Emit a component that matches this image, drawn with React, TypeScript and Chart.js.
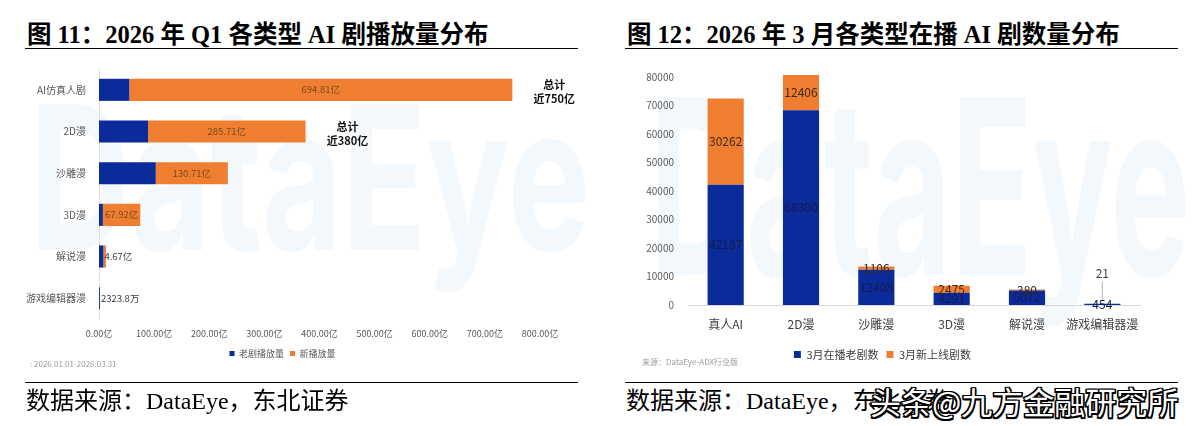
import React, { useEffect, useRef } from "react";
import { Chart, registerables } from "chart.js";

Chart.register(...registerables);

// ---------- data: figure 11 (horizontal stacked bars) ----------
const playCategories = ["AI仿真人剧", "2D漫", "沙雕漫", "3D漫", "解说漫", "游戏编辑器漫"];
const oldPlay = [55, 89, 103, 7, 8, 1.6];
const newPlay = [694.81, 285.71, 130.71, 67.92, 4.67, 0.23238];
const newPlayLabels = ["694.81亿", "285.71亿", "130.71亿", "67.92亿", "4.67亿", "2323.8万"];
const playTicks = [0, 100, 200, 300, 400, 500, 600, 700, 800];
const totalNoteIndex = [0, 1];
const totalNoteLines = [
  ["总计", "近750亿"],
  ["总计", "近380亿"],
];
const playSeriesNames = ["老剧播放量", "新播放量"];

// ---------- data: figure 12 (vertical stacked bars) ----------
const countCategories = ["真人AI", "2D漫", "沙雕漫", "3D漫", "解说漫", "游戏编辑器漫"];
const oldCount = [42187, 68300, 12408, 4291, 5072, 454];
const newCount = [30262, 12406, 1106, 2475, 380, 21];
const countTicks = [0, 10000, 20000, 30000, 40000, 50000, 60000, 70000, 80000];
const countSeriesNames = ["3月在播老剧数", "3月新上线剧数"];

const BLUE = "#0b2b9b";
const ORANGE = "#ef7e31";
const SANS = "'Noto Sans CJK SC', 'Noto Sans', sans-serif";
const SERIF = "'Liberation Serif', 'Noto Sans CJK SC', serif";

const watermark = (x: number, y: number, size: number, width: number) => ({
  id: "wm",
  beforeDraw(chart: any) {
    const ctx = chart.ctx;
    ctx.save();
    ctx.fillStyle = "#f3f8fc";
    ctx.font = `bold ${size}px Inter, sans-serif`;
    ctx.textBaseline = "alphabetic";
    ctx.fillText("DataEye", x, y, width);
    ctx.restore();
  },
});

function PlayChart() {
  const ref = useRef<HTMLCanvasElement>(null);
  useEffect(() => {
    const labelPlugin = {
      id: "playLabels",
      afterDatasetsDraw(chart: any) {
        const ctx = chart.ctx;
        const m1 = chart.getDatasetMeta(1);
        ctx.save();
        ctx.font = `9.5px ${SANS}`;
        ctx.textBaseline = "middle";
        ctx.textAlign = "center";
        m1.data.forEach((bar: any, i: number) => {
          const start = bar.base;
          const end = bar.x;
          const txt = newPlayLabels[i];
          const w = ctx.measureText(txt).width;
          const cx = Math.max((start + end) / 2, start + w / 2 + 1);
          ctx.fillStyle = end - start > w ? "#7a4a1c" : "#404040";
          ctx.fillText(txt, cx, bar.y);
        });
        ctx.font = `bold 11px ${SANS}`;
        ctx.fillStyle = "#111";
        totalNoteIndex.forEach((idx, k) => {
          const bar = m1.data[idx];
          const cx = bar.x + 42;
          ctx.fillText(totalNoteLines[k][0], cx, bar.y - 5);
          ctx.fillText(totalNoteLines[k][1], cx, bar.y + 9);
        });
        ctx.restore();
      },
    };
    const chart = new Chart(ref.current as HTMLCanvasElement, {
      type: "bar",
      data: {
        labels: playCategories,
        datasets: [
          { label: playSeriesNames[0], data: oldPlay, backgroundColor: BLUE, barPercentage: 0.53, categoryPercentage: 1 },
          { label: playSeriesNames[1], data: newPlay, backgroundColor: ORANGE, barPercentage: 0.53, categoryPercentage: 1 },
        ],
      },
      options: {
        indexAxis: "y",
        responsive: false,
        animation: false,
        layout: { padding: { top: 4.5, right: 45, left: 0, bottom: 2 } },
        scales: {
          x: {
            stacked: true,
            min: 0,
            max: 800,
            afterBuildTicks: (s: any) => {
              s.ticks = playTicks.map((v) => ({ value: v }));
            },
            grid: { display: false },
            border: { display: false },
            ticks: {
              callback: (v: any) => `${Number(v).toFixed(2)}亿`,
              font: { size: 9, family: SANS },
              color: "#595959",
              padding: 1,
              maxRotation: 0,
            },
            afterFit: (s: any) => {
              s.height = 24;
            },
          },
          y: {
            stacked: true,
            grid: { display: false },
            border: { display: true, color: "#e0e0e0" },
            ticks: { font: { size: 10, family: SANS }, color: "#595959", padding: 5 },
            afterFit: (s: any) => {
              s.width = 74;
            },
          },
        },
        plugins: {
          legend: {
            position: "bottom",
            labels: { boxWidth: 5, boxHeight: 5, font: { size: 9, family: SANS }, color: "#595959", padding: 6 },
          },
          tooltip: { enabled: false },
        },
      },
      plugins: [watermark(5, 192, 200, 560), labelPlugin],
    } as any);
    return () => chart.destroy();
  }, []);
  return <canvas ref={ref} width={560} height={312} style={{ position: "absolute", left: 25, top: 58 }} />;
}

function CountChart() {
  const ref = useRef<HTMLCanvasElement>(null);
  useEffect(() => {
    const labelPlugin = {
      id: "countLabels",
      afterDatasetsDraw(chart: any) {
        const ctx = chart.ctx;
        const m0 = chart.getDatasetMeta(0);
        const m1 = chart.getDatasetMeta(1);
        ctx.save();
        ctx.font = `12px ${SANS}`;
        ctx.textBaseline = "middle";
        ctx.textAlign = "center";
        m0.data.forEach((bar: any, i: number) => {
          ctx.fillStyle = "#141b4a";
          ctx.fillText(String(oldCount[i]), bar.x, (bar.y + bar.base) / 2);
        });
        m1.data.forEach((bar: any, i: number) => {
          const h = bar.base - bar.y;
          if (h < 1) {
            ctx.strokeStyle = "#b0b0b0";
            ctx.lineWidth = 1;
            ctx.beginPath();
            ctx.moveTo(bar.x, bar.y - 22);
            ctx.lineTo(bar.x, bar.y - 4);
            ctx.stroke();
            ctx.fillStyle = "#404040";
            ctx.fillText(String(newCount[i]), bar.x, bar.y - 30);
          } else {
            ctx.fillStyle = "#3d2a18";
            ctx.fillText(String(newCount[i]), bar.x, (bar.y + bar.base) / 2);
          }
        });
        ctx.restore();
      },
    };
    const chart = new Chart(ref.current as HTMLCanvasElement, {
      type: "bar",
      data: {
        labels: countCategories,
        datasets: [
          { label: countSeriesNames[0], data: oldCount, backgroundColor: BLUE, barPercentage: 0.48, categoryPercentage: 1, clip: false },
          { label: countSeriesNames[1], data: newCount, backgroundColor: ORANGE, barPercentage: 0.48, categoryPercentage: 1, clip: false },
        ],
      },
      options: {
        responsive: false,
        animation: false,
        layout: { padding: { top: 19, right: 45, left: 0, bottom: 0 } },
        scales: {
          x: {
            stacked: true,
            grid: { display: false },
            border: { display: true, color: "#d9d9d9" },
            ticks: {
              font: { size: 12, family: SANS },
              color: "#404040",
              padding: 4,
              maxRotation: 0,
              minRotation: 0,
              autoSkip: false,
            },
            afterFit: (s: any) => {
              s.height = 36;
            },
          },
          y: {
            stacked: true,
            min: 0,
            max: 80000,
            afterBuildTicks: (s: any) => {
              s.ticks = countTicks.map((v) => ({ value: v }));
            },
            grid: { display: false },
            border: { display: false },
            ticks: {
              callback: (v: any) => String(v),
              font: { size: 10, family: SANS },
              color: "#595959",
              padding: 6,
            },
            afterFit: (s: any) => {
              s.width = 63;
            },
          },
        },
        plugins: {
          legend: {
            position: "bottom",
            labels: { boxWidth: 7, boxHeight: 7, font: { size: 11, family: SANS }, color: "#404040", padding: 8 },
          },
          tooltip: { enabled: false },
        },
      },
      plugins: [watermark(25, 217, 245, 540), labelPlugin],
    } as any);
    return () => chart.destroy();
  }, []);
  return <canvas ref={ref} width={560} height={312} style={{ position: "absolute", left: 625, top: 58 }} />;
}

const titleStyle: React.CSSProperties = {
  position: "absolute",
  top: 21,
  fontFamily: SERIF,
  fontWeight: "bold",
  fontSize: 24.5,
  lineHeight: "28px",
  color: "#000",
  whiteSpace: "nowrap",
};
const sourceStyle: React.CSSProperties = {
  position: "absolute",
  top: 386,
  fontFamily: SERIF,
  fontSize: 24,
  lineHeight: "30px",
  color: "#000",
  whiteSpace: "nowrap",
};
const rule = (left: number, top: number, width: number): React.CSSProperties => ({
  position: "absolute",
  left,
  top,
  width,
  height: 0,
  borderTop: "1.5px solid #000",
});
const noteStyle: React.CSSProperties = {
  position: "absolute",
  fontFamily: SANS,
  fontSize: 8,
  color: "#9a9a9a",
  whiteSpace: "nowrap",
};

export default function App() {
  return (
    <div style={{ position: "absolute", left: 0, top: 0, width: 1200, height: 426, background: "#fff", overflow: "hidden" }}>
      <div style={{ ...titleStyle, left: 27 }}>图 11：2026 年 Q1 各类型 AI 剧播放量分布</div>
      <div style={rule(25, 48, 553)} />
      <PlayChart />
      <div style={{ ...noteStyle, left: 30, top: 358 }}>: 2026.01.01-2026.03.31</div>
      <div style={rule(25, 382, 553)} />
      <div style={{ ...sourceStyle, left: 26 }}>数据来源：DataEye，东北证券</div>

      <div style={{ ...titleStyle, left: 627 }}>图 12：2026 年 3 月各类型在播 AI 剧数量分布</div>
      <div style={rule(625, 48, 553)} />
      <CountChart />
      <div style={{ ...noteStyle, left: 642, top: 356 }}>来源：DataEye-ADX行业版</div>
      <div style={rule(625, 382, 553)} />
      <div style={{ ...sourceStyle, left: 626 }}>数据来源：DataEye，东北证券</div>
      <div
        style={{
          position: "absolute",
          left: 870,
          top: 382,
          fontFamily: SANS,
          fontSize: 31,
          lineHeight: "38px",
          color: "#fff",
          whiteSpace: "nowrap",
          textShadow:
            "-1.5px -1.5px 0 #000, 1.5px -1.5px 0 #000, -1.5px 1.5px 0 #000, 1.5px 1.5px 0 #000, 0 -1.5px 0 #000, 0 1.5px 0 #000, -1.5px 0 0 #000, 1.5px 0 0 #000",
        }}
      >
        头条@九方金融研究所
      </div>
    </div>
  );
}
